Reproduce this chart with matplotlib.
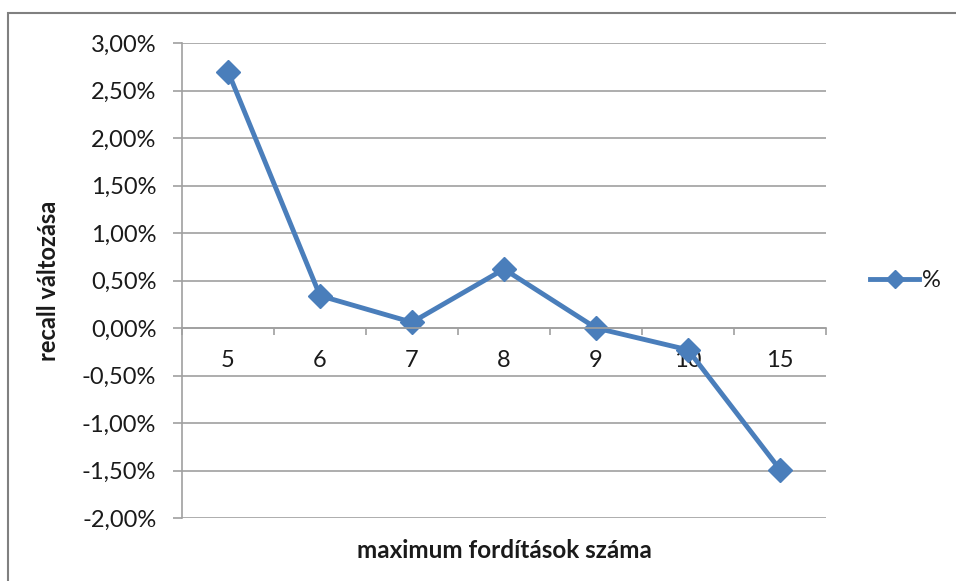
import matplotlib.pyplot as plt
from matplotlib.patches import Rectangle
from matplotlib.ticker import FuncFormatter

categories = ['5', '6', '7', '8', '9', '10', '15']
recall_change = [2.70, 0.34, 0.06, 0.62, 0.00, -0.23, -1.49]  # percent
y_ticks = [-2.0, -1.5, -1.0, -0.5, 0.0, 0.5, 1.0, 1.5, 2.0, 2.5, 3.0]

blue = '#4a7ebb'
grid_gray = '#a0a0a0'
text_col = '#1a1a1a'
plt.rcParams['font.family'] = ['Lato', 'DejaVu Sans']

fig = plt.figure(figsize=(9.56, 5.81), dpi=100)
ax = fig.add_axes([182 / 956, 1 - 518 / 581, (826 - 182) / 956, (518 - 43) / 581])

# border of the chart area, cropped at right and bottom
fig.patches.append(Rectangle((8 / 956, -0.1), 1.2, 1 - 13 / 581 + 0.1,
                             transform=fig.transFigure, fill=False,
                             edgecolor='#808080', linewidth=1.5))

x = list(range(len(categories)))
ax.plot(x, recall_change, color=blue, linewidth=3.5, marker='D',
        markersize=12, label='%')

ax.set_xlim(-0.5, len(categories) - 0.5)
ax.set_ylim(y_ticks[0], y_ticks[-1])
ax.set_yticks(y_ticks)
ax.yaxis.set_major_formatter(FuncFormatter(lambda v, p: f'{v:.2f}%'.replace('.', ',')))
ax.grid(axis='y', color=grid_gray, linewidth=1.2)
ax.set_axisbelow(True)

ax.spines['top'].set_visible(False)
ax.spines['right'].set_visible(False)
ax.spines['left'].set_color(grid_gray)
ax.spines['left'].set_linewidth(1.2)
ax.spines['bottom'].set_position(('data', 0))
ax.spines['bottom'].set_color(grid_gray)
ax.spines['bottom'].set_linewidth(1.2)

ax.set_xticks(x)
ax.set_xticklabels(categories)
ax.set_xticks([i - 0.5 for i in range(len(categories) + 1)], minor=True)
ax.tick_params(axis='x', which='major', length=0, pad=16, labelsize=17, colors=text_col)
ax.tick_params(axis='x', which='minor', length=5, width=1.2, color=grid_gray)
ax.tick_params(axis='y', length=6.5, width=1.2, color=grid_gray, labelsize=17,
               labelcolor=text_col, pad=12)

ax.set_ylabel('recall változása', fontsize=17, fontweight='bold', labelpad=16,
              color=text_col)
ax.set_xlabel('maximum fordítások száma', fontsize=17.5, fontweight='bold', color=text_col)
ax.xaxis.set_label_coords(0.5, -0.045)

ax.legend(loc='center left', bbox_to_anchor=(1.035, 0.5), frameon=False,
          fontsize=17, handlelength=2.1, handletextpad=0.1, markerscale=0.8,
          labelcolor=text_col)

fig.savefig('out.png', dpi=100)
